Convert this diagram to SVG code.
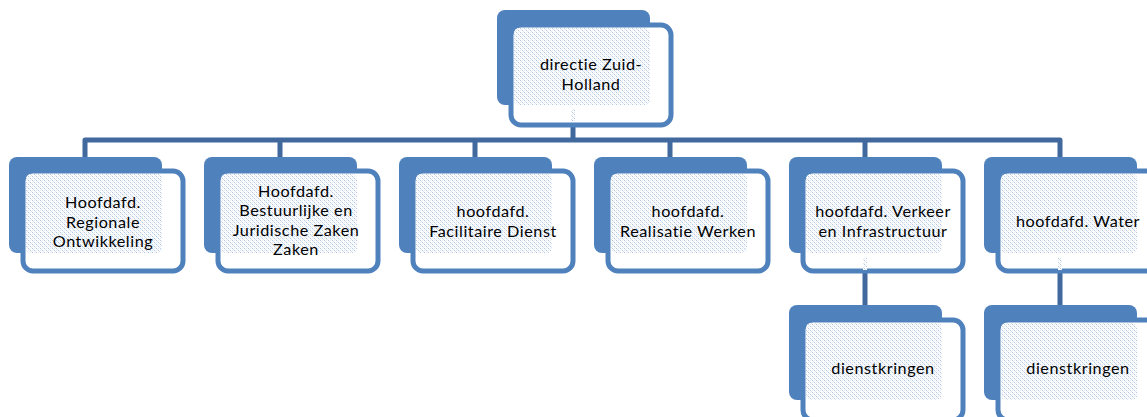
<svg xmlns="http://www.w3.org/2000/svg" width="1147" height="417" viewBox="0 0 1147 417">
<defs>
<pattern id="dots" x="0" y="0" width="4" height="4" patternUnits="userSpaceOnUse">
<rect width="4" height="4" fill="#ffffff"/>
<rect x="0" y="0" width="1" height="1" fill="#b4c8e2"/>
<rect x="2" y="2" width="1" height="1" fill="#b4c8e2"/>
<rect x="1" y="1" width="1" height="1" fill="#dbe5f2"/>
<rect x="3" y="3" width="1" height="1" fill="#dbe5f2"/>
<rect x="2" y="0" width="1" height="1" fill="#e6edf6"/>
<rect x="0" y="2" width="1" height="1" fill="#e6edf6"/>
</pattern>
</defs>
<style>
.back{fill:#4f81bd}
.front{fill:#ffffff;stroke:#4f81bd;stroke-width:5}
.pat{fill:url(#dots)}
.conn{fill:none;stroke:#41699e;stroke-width:5;stroke-linejoin:round}
text{font-family:Lato,"Open Sans",sans-serif;font-size:16.2px;letter-spacing:0.55px;font-variant-ligatures:none;fill:#000000;text-anchor:middle}
</style>
<g id="connectors">
<path class="conn" d="M573,127 V140"/>
<path class="conn" d="M85,157 V140 H1060 V157"/>
<path class="conn" d="M280,140 V157 M475,140 V157 M670,140 V157 M865,140 V157"/>
<path class="conn" d="M865,273 V305 M1060,273 V305"/>
</g>
<g id="n0">
<rect class="back" x="497" y="10" width="153" height="95" rx="8"/>
<rect class="front" x="511" y="25" width="160" height="100" rx="10"/>
<rect class="pat" x="514" y="28" width="136" height="77" rx="5"/>
<rect class="pat" x="571" y="109" width="4" height="12"/>
<text x="591" y="70">directie Zuid-</text>
<text x="591" y="89.5">Holland</text>
</g>
<g id="n1">
<rect class="back" x="9" y="157" width="153" height="96" rx="8"/>
<rect class="front" x="23" y="171" width="160" height="100" rx="10"/>
<rect class="pat" x="26" y="174" width="136" height="79" rx="5"/>
<text x="103" y="208">Hoofdafd.</text>
<text x="103" y="227.5">Regionale</text>
<text x="103" y="247">Ontwikkeling</text>
</g>
<g id="n2">
<rect class="back" x="204" y="157" width="153" height="96" rx="8"/>
<rect class="front" x="218" y="171" width="160" height="100" rx="10"/>
<rect class="pat" x="221" y="174" width="136" height="79" rx="5"/>
<text x="296" y="196.5">Hoofdafd.</text>
<text x="296" y="216">Bestuurlijke en</text>
<text x="296" y="235.5">Juridische Zaken</text>
<text x="296" y="255">Zaken</text>
</g>
<g id="n3">
<rect class="back" x="399" y="157" width="153" height="96" rx="8"/>
<rect class="front" x="413" y="171" width="160" height="100" rx="10"/>
<rect class="pat" x="416" y="174" width="136" height="79" rx="5"/>
<text x="493" y="217">hoofdafd.</text>
<text x="493" y="236.5">Facilitaire Dienst</text>
</g>
<g id="n4">
<rect class="back" x="594" y="157" width="153" height="96" rx="8"/>
<rect class="front" x="608" y="171" width="160" height="100" rx="10"/>
<rect class="pat" x="611" y="174" width="136" height="79" rx="5"/>
<text x="688" y="217">hoofdafd.</text>
<text x="688" y="236.5">Realisatie Werken</text>
</g>
<g id="n5">
<rect class="back" x="789" y="157" width="153" height="96" rx="8"/>
<rect class="front" x="803" y="171" width="160" height="100" rx="10"/>
<rect class="pat" x="806" y="174" width="136" height="79" rx="5"/>
<rect class="pat" x="863" y="258" width="4" height="12"/>
<text x="883" y="217">hoofdafd. Verkeer</text>
<text x="883" y="236.5">en Infrastructuur</text>
</g>
<g id="n6">
<rect class="back" x="984" y="157" width="153" height="96" rx="8"/>
<rect class="front" x="998" y="171" width="160" height="100" rx="10"/>
<rect class="pat" x="1001" y="174" width="136" height="79" rx="5"/>
<rect class="pat" x="1058" y="258" width="4" height="12"/>
<text x="1078" y="227">hoofdafd. Water</text>
</g>
<g id="n7">
<rect class="back" x="789" y="305" width="153" height="95" rx="8"/>
<rect class="front" x="803" y="320" width="160" height="100" rx="10"/>
<rect class="pat" x="806" y="323" width="136" height="77" rx="5"/>
<text x="883" y="374">dienstkringen</text>
</g>
<g id="n8">
<rect class="back" x="984" y="305" width="153" height="95" rx="8"/>
<rect class="front" x="998" y="320" width="160" height="100" rx="10"/>
<rect class="pat" x="1001" y="323" width="136" height="77" rx="5"/>
<text x="1078" y="374">dienstkringen</text>
</g>
</svg>
